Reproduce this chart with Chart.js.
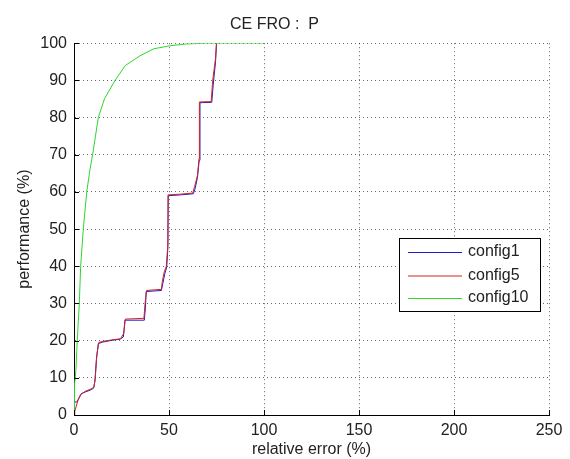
<!DOCTYPE html>
<html>
<head>
<meta charset="utf-8">
<script src="https://cdn.jsdelivr.net/npm/chart.js@4/dist/chart.umd.min.js"></script>
<style>
html,body{margin:0;padding:0;background:#fff;}
#wrap{width:570px;height:459px;}
</style>
</head>
<body>
<div id="wrap"><canvas id="c" width="570" height="459"></canvas></div>
<script>
const chartTitle = "CE FRO :  P";
const xLabel = "relative error (%)";
const yLabel = "performance (%)";
const seriesNames = ["config1", "config5", "config10"];

const config1X = [0, 0, 1.5, 3.8, 6, 9, 10.3, 11, 11.8, 12.8, 15, 20, 24.2, 26, 26.8, 37, 37.6, 38, 46, 46.8, 47.8, 48.8, 49.4, 49.6, 56, 62.8, 63.8, 65, 65.9, 66.3, 72.5, 73.3, 74.5, 75];
const config1Y = [0, 3.5, 3.5, 5.7, 6.2, 6.8, 7.2, 9, 15, 19.2, 19.6, 20.1, 20.4, 21, 25.5, 25.5, 29, 33.2, 33.5, 35.5, 38, 39.8, 45, 59, 59.2, 59.5, 61, 64, 68.5, 84, 84.1, 89, 95, 100];

const config5X = [0, 0.4, 2, 3.5, 6, 9, 10.5, 11.2, 12, 13, 15, 20, 24.5, 26.2, 27, 36.8, 37.4, 38.2, 46, 46.5, 47.5, 48.6, 49.4, 49.5, 56, 62.5, 63.5, 65, 65.8, 66, 72.2, 73, 74.5, 75];
const config5Y = [0, 1, 3.8, 5.5, 6.4, 7, 7.5, 10, 16, 19.5, 19.8, 20.2, 20.5, 22, 25.8, 26, 30, 33.5, 33.8, 36, 38.5, 40, 46, 59.2, 59.4, 59.7, 61.5, 64.5, 69, 84.2, 84.3, 90, 96, 100];

const config10X = [0, 0, 0.5, 1, 1.7, 2.8, 3.5, 4.9, 6.7, 8.4, 9.8, 12.8, 16, 21.6, 27, 34.7, 42, 50.5, 59, 70, 100];
const config10Y = [0, 5, 8, 12, 20, 30, 40, 50, 60, 66, 70, 80, 85, 90, 94, 96.6, 98.5, 99.3, 99.8, 100, 100];

const xTicksMin = 0, xTicksMax = 250, xStep = 50;
const yTicksMin = 0, yTicksMax = 100, yStep = 10;

function pts(xs, ys){ return xs.map((x,i)=>({x:x, y:ys[i]})); }

const FONT = "'Liberation Sans', Arial, sans-serif";
const TXT = '#222';

const insideTicks = {
  id: 'insideTicks',
  afterDraw(chart){
    const ctx = chart.ctx, a = chart.chartArea;
    const xs = chart.scales.x, ys = chart.scales.y;
    ctx.save();
    ctx.strokeStyle = '#000'; ctx.lineWidth = 1;
    ctx.beginPath();
    xs.ticks.forEach(t=>{
      const p = Math.round(xs.getPixelForValue(t.value)) + 0.5;
      ctx.moveTo(p, a.bottom); ctx.lineTo(p, a.bottom - 5);
    });
    ys.ticks.forEach(t=>{
      const p = Math.round(ys.getPixelForValue(t.value)) + 0.5;
      ctx.moveTo(a.left, p); ctx.lineTo(a.left + 5, p);
    });
    ctx.stroke();
    ctx.restore();
  }
};

const boxLegend = {
  id: 'boxLegend',
  afterDraw(chart){
    const ctx = chart.ctx;
    const bx = 399.5, by = 238.5, bw = 141, bh = 73;
    ctx.save();
    ctx.fillStyle = '#fff';
    ctx.fillRect(bx, by, bw, bh);
    ctx.strokeStyle = '#000'; ctx.lineWidth = 1;
    ctx.strokeRect(bx, by, bw, bh);
    ctx.font = '16px ' + FONT;
    ctx.textBaseline = 'middle';
    ctx.fillStyle = TXT;
    const rows = [252, 275.5, 298];
    chart.data.datasets.forEach((ds, i)=>{
      const y = rows[i];
      ctx.strokeStyle = ds.borderColor;
      ctx.lineWidth = 1;
      ctx.beginPath();
      ctx.moveTo(408, y + 0.5); ctx.lineTo(462, y + 0.5);
      ctx.stroke();
      ctx.fillText(ds.label, 468, y);
    });
    ctx.restore();
  }
};

const gridCommon = {
  color: 'rgba(0,0,0,0.6)',
  lineWidth: 1,
  drawTicks: false
};

new Chart(document.getElementById('c'), {
  type: 'line',
  data: {
    datasets: [
      {label: seriesNames[0], data: pts(config1X, config1Y), borderColor: '#1c1cc8', borderWidth: 1, pointRadius: 0, tension: 0, order: 2},
      {label: seriesNames[1], data: pts(config5X, config5Y), borderColor: '#d02424', borderWidth: 1, pointRadius: 0, tension: 0, order: 1},
      {label: seriesNames[2], data: pts(config10X, config10Y), borderColor: '#2ed62e', borderWidth: 1, pointRadius: 0, tension: 0, order: 0}
    ]
  },
  options: {
    responsive: false,
    animation: false,
    layout: {padding: {left: 0, right: 21, top: 0, bottom: 0}},
    plugins: {
      legend: {display: false},
      tooltip: {enabled: false},
      title: {
        display: true, text: chartTitle, color: TXT,
        font: {family: FONT, size: 16, weight: 'normal'},
        padding: {top: 15, bottom: 9}
      }
    },
    scales: {
      x: {
        type: 'linear', min: xTicksMin, max: xTicksMax,
        ticks: {stepSize: xStep, color: TXT, padding: 6, font: {family: FONT, size: 16}, maxRotation: 0},
        grid: gridCommon,
        border: {display: true, color: '#000', width: 1, dash: [1, 3]},
        title: {display: true, text: xLabel, color: TXT, font: {family: FONT, size: 16}, padding: {top: 0, bottom: 0}},
        afterFit(s){ s.height = 44; }
      },
      y: {
        type: 'linear', min: yTicksMin, max: yTicksMax,
        ticks: {stepSize: yStep, color: TXT, padding: 7, font: {family: FONT, size: 16}},
        grid: gridCommon,
        border: {display: true, color: '#000', width: 1, dash: [1, 3]},
        title: {display: true, text: yLabel, color: TXT, font: {family: FONT, size: 16}, padding: {top: 15, bottom: 0}},
        afterFit(s){ s.width = 74; }
      }
    }
  },
  plugins: [insideTicks, boxLegend]
});
</script>
</body>
</html>
